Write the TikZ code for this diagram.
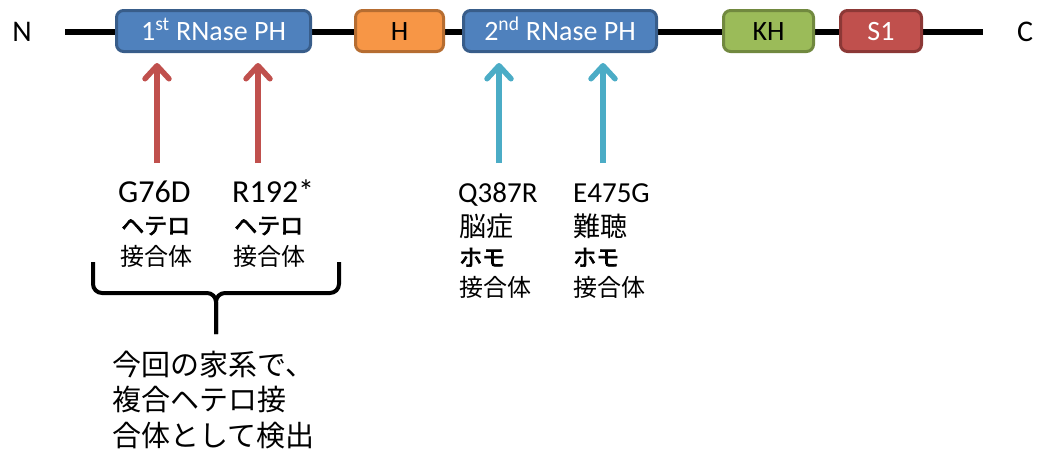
\documentclass[tikz,border=0pt]{standalone}
\usepackage{fontspec}
\setmainfont{Carlito}
\newfontfamily\jp{Noto Sans CJK JP}
\newfontfamily\jpheavy{Noto Sans CJK JP}[FakeBold=3]
\usetikzlibrary{arrows.meta}

\definecolor{phfill}{HTML}{4F81BD}
\definecolor{phline}{HTML}{385D8A}
\definecolor{hfill}{HTML}{F79646}
\definecolor{hline}{HTML}{B66D31}
\definecolor{khfill}{HTML}{9BBB59}
\definecolor{khline}{HTML}{71893F}
\definecolor{sfill}{HTML}{C0504D}
\definecolor{sline}{HTML}{8C3836}
\definecolor{hetarrow}{HTML}{C0504D}
\definecolor{homarrow}{HTML}{4BACC6}

\begin{document}
\begin{tikzpicture}[x=1pt,y=-1pt,
  backbone/.style={line width=5.5pt},
  domainbox/.style={rectangle, rounded corners=7pt, line width=3pt,
    minimum height=41pt, inner sep=0pt, text height=18pt, text depth=0pt,
    font=\fontsize{28}{30}\selectfont},
  endlabel/.style={font=\fontsize{30}{30}\selectfont, inner sep=0pt},
  mutarrow/.style={line width=5.5pt,
    -{Straight Barb[length=13pt,width=24pt,round]}},
  latinlbl/.style={anchor=base west, inner sep=0pt, font=\fontsize{29}{31}\selectfont},
  latinbig/.style={anchor=base west, inner sep=0pt, font=\fontsize{32}{31}\selectfont},
  jplbl/.style={anchor=base west, inner sep=0pt, font=\jp\fontsize{24}{31}\selectfont},
  jpdisease/.style={anchor=base west, inner sep=0pt, font=\jp\fontsize{27}{31}\selectfont},
  jpbold/.style={anchor=base west, inner sep=0pt, font=\jpheavy\fontsize{23}{31}\selectfont},
  summary/.style={anchor=base west, inner sep=0pt, font=\jp\fontsize{29}{35}\selectfont},
  bracket/.style={line width=4pt, rounded corners=9pt}
]
\useasboundingbox (0,0) rectangle (1039,461);

% protein backbone
\coordinate (nterm) at (65,32);
\coordinate (cterm) at (983,32);
\draw[backbone] (nterm) -- (cterm);
\node[endlabel] (nlab) at (22,32) {N};
\node[endlabel] (clab) at (1025,32) {C};

% domains
\node[domainbox, fill=phfill, draw=phline, text=white, minimum width=194pt]
  (ph1) at (213.5,31) {1\textsuperscript{st} RNase PH};
\node[domainbox, fill=hfill, draw=hline, text=black, minimum width=88pt]
  (hdom) at (399.5,31) {H};
\node[domainbox, fill=phfill, draw=phline, text=white, minimum width=193pt]
  (ph2) at (560,31) {2\textsuperscript{nd} RNase PH};
\node[domainbox, fill=khfill, draw=khline, text=black, minimum width=90pt]
  (kh) at (768.5,31) {KH};
\node[domainbox, fill=sfill, draw=sline, text=white, minimum width=81pt]
  (s1) at (881,31) {S1};

% mutation arrows
\coordinate (a1b) at (157,163); \coordinate (a1t) at (157,63);
\coordinate (a2b) at (258,163); \coordinate (a2t) at (258,63);
\coordinate (a3b) at (499,163); \coordinate (a3t) at (499,63);
\coordinate (a4b) at (603,163); \coordinate (a4t) at (603,63);
\draw[mutarrow, draw=hetarrow] (a1b) -- (a1t);
\draw[mutarrow, draw=hetarrow] (a2b) -- (a2t);
\draw[mutarrow, draw=homarrow] (a3b) -- (a3t);
\draw[mutarrow, draw=homarrow] (a4b) -- (a4t);

% mutation labels
\node[latinbig] (m1) at (118,202) {G76D};
\node[jpbold]   (m1z) at (121,234) {ヘテロ};
\node[jplbl]    (m1t) at (120,265) {接合体};

\node[latinbig] (m2) at (232,202) {R192*};
\node[jpbold]   (m2z) at (234,234) {ヘテロ};
\node[jplbl]    (m2t) at (233,265) {接合体};

\node[latinlbl] (m3) at (458,202) {Q387R};
\node[jpdisease] (m3p) at (459,236) {脳症};
\node[jpbold]   (m3z) at (459,266) {ホモ};
\node[jplbl]    (m3t) at (459,296) {接合体};

\node[latinlbl] (m4) at (573,202) {E475G};
\node[jpdisease] (m4p) at (573,236) {難聴};
\node[jpbold]   (m4z) at (573,266) {ホモ};
\node[jplbl]    (m4t) at (573,296) {接合体};

% grouping bracket under the two heterozygous variants
\coordinate (bl) at (93,262);
\coordinate (br) at (339,262);
\coordinate (bm) at (216,293);
\coordinate (btip) at (216,334);
\draw[bracket] (bl) |- (bm) -- (btip);
\draw[bracket] (br) |- (bm) -- (btip);

% summary text
\node[summary] (s1l) at (112,375) {今回の家系で、};
\node[summary] (s2l) at (112,410) {複合ヘテロ接};
\node[summary] (s3l) at (112,446) {合体として検出};
\end{tikzpicture}
\end{document}
